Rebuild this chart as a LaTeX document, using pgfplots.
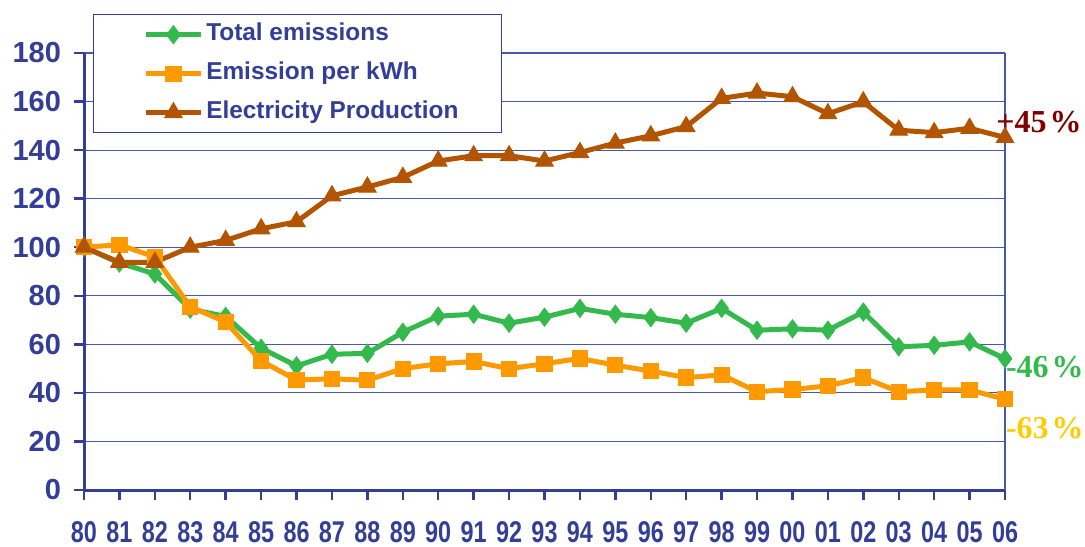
\documentclass[border=0pt]{standalone}
\usepackage{fontspec}
\setmainfont{Liberation Sans}
\newfontfamily\serifbold{Liberation Serif}
\newfontfamily\narrowsans{Liberation Sans}[FakeStretch=0.78]
\usepackage{pgfplots}
\usepackage{pgfplotstable}
\pgfplotsset{compat=1.18}

\definecolor{axisblue}{RGB}{50,62,152}
\definecolor{gridblue}{RGB}{72,88,178}
\definecolor{totgreen}{RGB}{52,186,76}
\definecolor{kwhorange}{RGB}{255,153,0}
\definecolor{prodbrown}{RGB}{178,84,0}
\definecolor{darkmaroon}{RGB}{128,0,0}
\definecolor{gold}{RGB}{255,204,0}

% index 0..26 stands for the years 1980..2006 (1980 = 100)
\pgfplotstableread{
x  tot   kwh   prod
0  100   100   100
1  93.5  101   93.8
2  89    96    93.8
3  74.5  75.5  100
4  71.5  69.2  102.8
5  58.4  53.2  107.6
6  51.1  45.3  110.5
7  55.9  45.8  121.2
8  56.3  45.2  124.8
9  65    50    128.8
10 71.6  52    135.5
11 72.4  52.9  137.7
12 68.7  50    137.7
13 71.2  52    135.5
14 74.8  54.2  139
15 72.4  51.4  142.9
16 71    49    145.9
17 68.7  46.3  149.7
18 74.8  47.4  161.3
19 65.8  40.5  163.5
20 66.4  41.4  162
21 65.8  42.9  155
22 73.3  46.3  159.9
23 59    40.5  148.2
24 59.6  41.2  147.2
25 61    41.2  149
26 54.1  37.4  145.2
}\datatable

\begin{document}
\begin{tikzpicture}
\begin{axis}[
  scale only axis,
  width=460.5pt, height=218.5pt,
  xmin=0, xmax=26, ymin=0, ymax=180,
  clip=false,
  xtick={0,...,26},
  xticklabels={80,81,82,83,84,85,86,87,88,89,90,91,92,93,94,95,96,97,98,99,00,01,02,03,04,05,06},
  ytick={0,20,...,180},
  axis x line=bottom, axis y line=left,
  axis line style={-, axisblue, line width=1.5pt},
  tick align=outside, major tick length=5pt,
  tick style={axisblue, line width=1.2pt},
  ymajorgrids,
  grid style={gridblue, line width=0.6pt},
  /pgf/number format/assume math mode=true,
  yticklabel style={font=\fontsize{14.5}{14.5}\selectfont\bfseries, text=axisblue, xshift=-3pt},
  xticklabel style={font=\narrowsans\fontsize{15}{15}\selectfont\bfseries, text=axisblue, yshift=-7pt},
  legend cell align=left,
  legend style={
    at={(0.0098,1.089)}, anchor=north west,
    draw=axisblue, line width=0.6pt, fill=white,
    font=\fontsize{12.2}{13}\selectfont\bfseries, text=axisblue,
    inner xsep=20pt, inner ysep=3pt, row sep=5.5pt,
    nodes={text height=9pt, text depth=3pt, inner xsep=1.5pt, inner ysep=1pt},
  },
  legend image code/.code={
    \path (-5pt,0pt);
    \draw[mark repeat=2, mark phase=2, #1]
      plot coordinates {(0cm,0cm) (0.48cm,0cm) (0.96cm,0cm)};
  },
]
\draw[gridblue, line width=0.6pt] (rel axis cs:1,0) -- (rel axis cs:1,1);

\addplot[totgreen, line width=2.5pt, mark=diamond*, mark size=4.5pt,
  mark options={solid, fill=totgreen, line width=0.5pt}]
  table[x=x, y=tot] {\datatable};
\addlegendentry{Total emissions}

\addplot[kwhorange, line width=2.5pt, mark=square*, mark size=3.8pt,
  mark options={solid, fill=kwhorange, line width=0.5pt}]
  table[x=x, y=kwh] {\datatable};
\addlegendentry{Emission per kWh}

\addplot[prodbrown, line width=2.5pt, mark=triangle*, mark size=5pt,
  mark options={solid, fill=prodbrown, line width=0.5pt}]
  table[x=x, y=prod] {\datatable};
\addlegendentry{Electricity Production}

\node[anchor=west, inner sep=0pt, text=darkmaroon,
  font=\serifbold\bfseries\fontsize{16}{16}\selectfont]
  at (axis cs:26,151.5) [xshift=-4.5pt] {+45\kern1.5pt\%};
\node[anchor=west, inner sep=0pt, text=totgreen,
  font=\serifbold\bfseries\fontsize{16}{16}\selectfont]
  at (axis cs:26,50.5) [xshift=0.3pt] {-46\kern1.5pt\%};
\node[anchor=west, inner sep=0pt, text=gold,
  font=\serifbold\bfseries\fontsize{16}{16}\selectfont]
  at (axis cs:26,25.7) [xshift=0.3pt] {-63\kern1.5pt\%};
\end{axis}
\pgfresetboundingbox
\path[use as bounding box] (-42pt,-28pt) rectangle (500.5pt,245pt);
\end{tikzpicture}
\end{document}
